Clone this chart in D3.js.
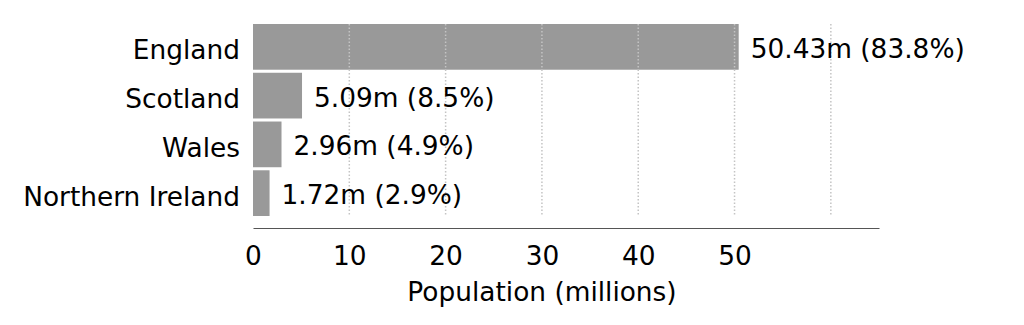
<!DOCTYPE html>
<html>
<head>
<meta charset="utf-8">
<script src="https://cdn.jsdelivr.net/npm/d3@7"></script>
<style>
  html, body { margin: 0; padding: 0; background: #fff; }
  svg { display: block; font-family: "DejaVu Sans", sans-serif; }
</style>
</head>
<body>
<svg id="chart" width="1024" height="325"></svg>
<script>
// UK population by nation
const nations = ["England", "Scotland", "Wales", "Northern Ireland"];
const populations = [50.43, 5.09, 2.96, 1.72];
const shares = [83.8, 8.5, 4.9, 2.9];
const tickValues = [0, 10, 20, 30, 40, 50];
const gridValues = [10, 20, 30, 40, 50, 60];

const svg = d3.select("#chart");
const plotLeft = 253, plotRight = 879, plotTop = 24, axisY = 228;
const fontSize = 26.4;

const x = d3.scaleLinear().domain([0, 65]).range([plotLeft, plotRight]);
const y = d3.scaleBand().domain(nations).range([plotTop, plotTop + 48 * 4]).paddingInner(3 / 48).paddingOuter(0);

// bars
svg.append("g").selectAll("rect")
  .data(nations)
  .join("rect")
  .attr("x", x(0))
  .attr("y", d => y(d))
  .attr("width", (d, i) => x(populations[i]) - x(0))
  .attr("height", y.bandwidth())
  .attr("fill", "#999999");

// dotted vertical grid drawn over the bars
svg.append("g").selectAll("line")
  .data(gridValues)
  .join("line")
  .attr("x1", d => x(d)).attr("x2", d => x(d))
  .attr("y1", plotTop).attr("y2", y("Northern Ireland") + y.bandwidth())
  .attr("stroke", "#c4c4c4")
  .attr("stroke-width", 1.5)
  .attr("stroke-dasharray", "1.5,2");

// x axis
const xAxis = d3.axisBottom(x).tickValues(tickValues).tickSize(0).tickPadding(0);
const gx = svg.append("g").attr("transform", `translate(0,${axisY})`).call(xAxis);
gx.select(".domain").attr("stroke", "#555").attr("stroke-width", 1.2);
gx.selectAll("text")
  .attr("y", 37).attr("dy", null)
  .attr("font-size", fontSize).attr("fill", "#000").attr("font-family", "DejaVu Sans");

svg.append("text")
  .attr("x", 542)
  .attr("y", 301)
  .attr("text-anchor", "middle")
  .attr("font-size", fontSize)
  .text("Population (millions)");

// category labels
svg.append("g").selectAll("text")
  .data(nations)
  .join("text")
  .attr("x", plotLeft - 13)
  .attr("y", d => y(d) + y.bandwidth() / 2 + 12.5)
  .attr("text-anchor", "end")
  .attr("font-size", fontSize)
  .text(d => d);

// value labels
svg.append("g").selectAll("text")
  .data(nations)
  .join("text")
  .attr("x", (d, i) => x(populations[i]) + 12)
  .attr("y", d => y(d) + y.bandwidth() / 2 + 11)
  .attr("font-size", fontSize)
  .text((d, i) => `${populations[i].toFixed(2)}m (${shares[i].toFixed(1)}%)`);
</script>
</body>
</html>
